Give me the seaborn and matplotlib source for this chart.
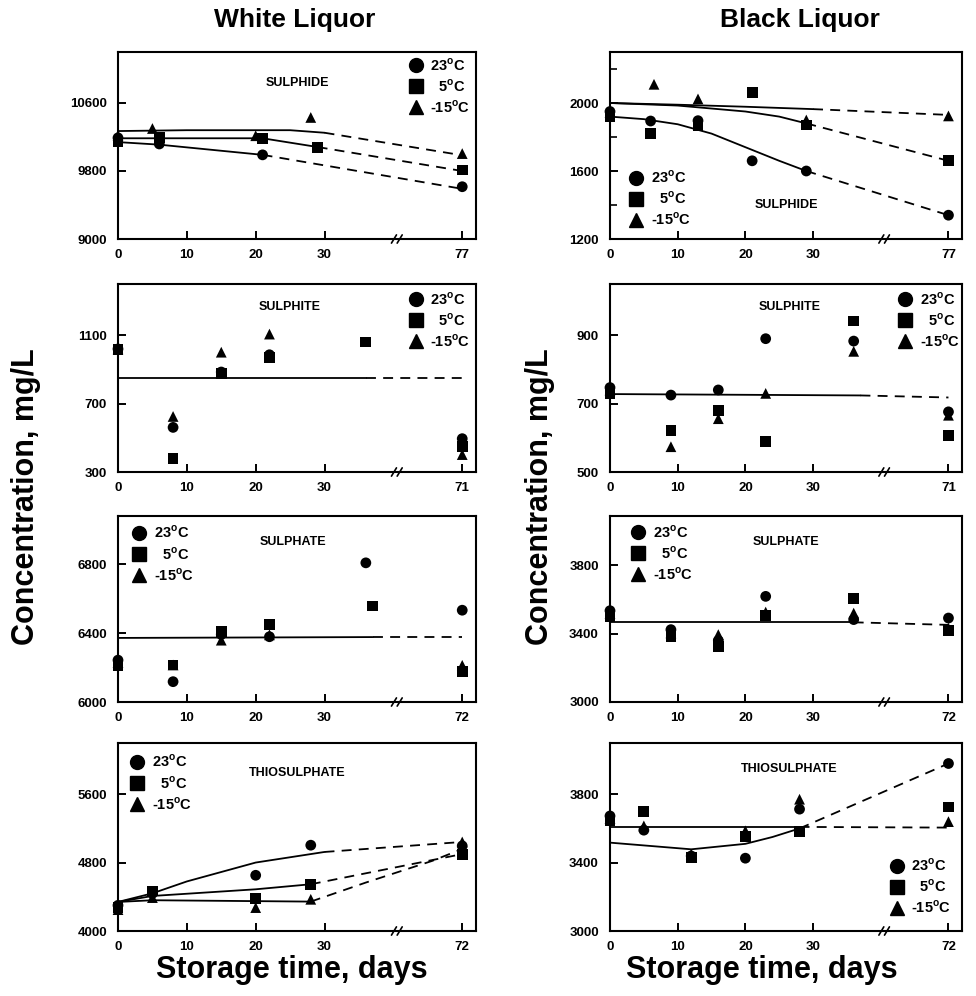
import numpy as np
import pandas as pd
import matplotlib
matplotlib.use("Agg")
import matplotlib.pyplot as plt
import seaborn as sns
from matplotlib.lines import Line2D

# ---------------------------------------------------------------- data
TEMPS = ["23°C", "5°C", "-15°C"]
LEG_LABELS = [r"23$^{\mathbf{o}}$C", r"  5$^{\mathbf{o}}$C", r"-15$^{\mathbf{o}}$C"]
MARKERS = {"23°C": "o", "5°C": "s", "-15°C": "^"}
XTICKS = [0, 10, 20, 30]

# White liquor - sulphide
ws_d23 = [0, 6, 21, 77];            ws_v23 = [10190, 10118, 9990, 9615]
ws_d5 = [0, 6, 21, 29, 77];         ws_v5 = [10150, 10195, 10185, 10080, 9812]
ws_dm15 = [0, 5, 20, 28, 77];       ws_vm15 = [10220, 10300, 10215, 10430, 10005]
ws_fit23_x = [0, 6, 21, 77];        ws_fit23_y = [10140, 10110, 9990, 9590]
ws_fit5_x = [0, 21, 29, 77];        ws_fit5_y = [10185, 10185, 10082, 9800]
ws_fitm15_x = [0, 10, 20, 25, 30, 77]; ws_fitm15_y = [10270, 10280, 10280, 10280, 10250, 9985]

# Black liquor - sulphide
bs_d23 = [0, 6, 13, 21, 29, 77];   bs_v23 = [1950, 1894, 1896, 1660, 1600, 1340]
bs_d5 = [0, 6, 13, 21, 29, 77];    bs_v5 = [1920, 1820, 1864, 2060, 1870, 1660]
bs_dm15 = [0, 6.5, 13, 29, 77];    bs_vm15 = [1945, 2110, 2024, 1900, 1924]
bs_fit23_x = [0, 5, 10, 15, 20, 25, 29, 77]; bs_fit23_y = [1920, 1905, 1875, 1820, 1740, 1660, 1600, 1340]
bs_fit5_x = [0, 10, 20, 25, 29, 77]; bs_fit5_y = [2000, 1985, 1950, 1920, 1880, 1660]
bs_fitm15_x = [0, 10, 20, 30, 77];  bs_fitm15_y = [2000, 1990, 1978, 1964, 1930]

# White liquor - sulphite
wsi_d23 = [0, 8, 15, 22, 71];       wsi_v23 = [1020, 561, 885, 986, 495]
wsi_d5 = [0, 8, 15, 22, 36, 71];    wsi_v5 = [1015, 377, 876, 972, 1060, 450]
wsi_dm15 = [0, 8, 15, 22, 71];      wsi_vm15 = [1020, 625, 1001, 1107, 402]
wsi_fit_x = [0, 36, 71];            wsi_fit_y = [851, 851, 851]

# Black liquor - sulphite
bsi_d23 = [0, 9, 16, 23, 36, 71];   bsi_v23 = [747, 725, 740, 890, 883, 676]
bsi_d5 = [0, 9, 16, 23, 36, 71];    bsi_v5 = [730, 621, 681, 589, 942, 607]
bsi_dm15 = [0, 9, 16, 23, 36, 71];  bsi_vm15 = [740, 574, 656, 730, 853, 666]
bsi_fit_x = [0, 37, 71];            bsi_fit_y = [728, 724, 718]

# White liquor - sulphate
wsa_d23 = [0, 8, 15, 22, 36, 72];   wsa_v23 = [6243, 6118, 6392, 6379, 6808, 6533]
wsa_d5 = [0, 8, 15, 22, 37, 72];    wsa_v5 = [6209, 6215, 6410, 6450, 6557, 6176]
wsa_dm15 = [0, 8, 15, 22, 72];      wsa_vm15 = [6230, 6215, 6359, 6390, 6213]
wsa_fit_x = [0, 37, 72];            wsa_fit_y = [6372, 6377, 6377]

# Black liquor - sulphate
bsa_d23 = [0, 9, 16, 23, 36, 72];   bsa_v23 = [3535, 3424, 3360, 3619, 3483, 3492]
bsa_d5 = [0, 9, 16, 23, 36, 72];    bsa_v5 = [3502, 3385, 3326, 3508, 3605, 3418]
bsa_dm15 = [0, 9, 16, 23, 36, 72];  bsa_vm15 = [3520, 3405, 3395, 3527, 3521, 3433]
bsa_fit_x = [0, 36, 72];            bsa_fit_y = [3467, 3467, 3452]

# White liquor - thiosulphate
wt_d23 = [0, 5, 20, 28, 72];        wt_v23 = [4300, 4440, 4652, 5004, 4996]
wt_d5 = [0, 5, 20, 28, 72];         wt_v5 = [4274, 4469, 4383, 4547, 4898]
wt_dm15 = [0, 5, 20, 28, 72];       wt_vm15 = [4250, 4391, 4274, 4371, 5042]
wt_fit23_x = [0, 5, 10, 20, 30, 72]; wt_fit23_y = [4340, 4441, 4580, 4801, 4925, 5042]
wt_fit5_x = [0, 5, 20, 28, 72];     wt_fit5_y = [4340, 4410, 4488, 4547, 4900]
wt_fitm15_x = [0, 5, 28, 36, 58, 72]; wt_fitm15_y = [4340, 4360, 4344, 4567, 4820, 4960]

# Black liquor - thiosulphate
bt_d23 = [0, 5, 12, 20, 28, 72];    bt_v23 = [3673, 3590, 3439, 3426, 3713, 3980]
bt_d5 = [0, 5, 12, 20, 28, 72];     bt_v5 = [3644, 3699, 3429, 3551, 3582, 3726]
bt_dm15 = [0, 5, 12, 20, 28, 72];   bt_vm15 = [3660, 3615, 3450, 3586, 3771, 3640]
bt_fita_x = [0, 28, 72];            bt_fita_y = [3609, 3609, 3605]
bt_fitb_x = [0, 12, 20, 24, 28, 72]; bt_fitb_y = [3517, 3478, 3510, 3550, 3600, 3980]

# ---------------------------------------------------------------- panels
panels = [
    dict(row=0, col=0, last=77, ylim=(9000, 11200), yt=[9000, 9800, 10600], minor=None,
         pts=[(ws_d23, ws_v23), (ws_d5, ws_v5), (ws_dm15, ws_vm15)],
         fits=[(ws_fit23_x, ws_fit23_y, 21), (ws_fit5_x, ws_fit5_y, 29), (ws_fitm15_x, ws_fitm15_y, 30)],
         name="SULPHIDE", name_xy=(0.50, 0.835),
         leg=dict(loc="upper right", bbox_to_anchor=(0.985, 0.975))),
    dict(row=0, col=1, last=77, ylim=(1200, 2300), yt=[1200, 1600, 2000], minor=[1400, 1800, 2200],
         pts=[(bs_d23, bs_v23), (bs_d5, bs_v5), (bs_dm15, bs_vm15)],
         fits=[(bs_fit23_x, bs_fit23_y, 29), (bs_fit5_x, bs_fit5_y, 29), (bs_fitm15_x, bs_fitm15_y, 30)],
         name="SULPHIDE", name_xy=(0.50, 0.18),
         leg=dict(loc="lower left", bbox_to_anchor=(0.05, 0.06))),
    dict(row=1, col=0, last=71, ylim=(300, 1400), yt=[300, 700, 1100], minor=None,
         pts=[(wsi_d23, wsi_v23), (wsi_d5, wsi_v5), (wsi_dm15, wsi_vm15)],
         fits=[(wsi_fit_x, wsi_fit_y, 36)],
         name="SULPHITE", name_xy=(0.48, 0.878),
         leg=dict(loc="upper right", bbox_to_anchor=(0.985, 0.965))),
    dict(row=1, col=1, last=71, ylim=(500, 1050), yt=[500, 700, 900], minor=None,
         pts=[(bsi_d23, bsi_v23), (bsi_d5, bsi_v5), (bsi_dm15, bsi_vm15)],
         fits=[(bsi_fit_x, bsi_fit_y, 37)],
         name="SULPHITE", name_xy=(0.51, 0.878),
         leg=dict(loc="upper right", bbox_to_anchor=(0.995, 0.965))),
    dict(row=2, col=0, last=72, ylim=(6000, 7080), yt=[6000, 6400, 6800], minor=None,
         pts=[(wsa_d23, wsa_v23), (wsa_d5, wsa_v5), (wsa_dm15, wsa_vm15)],
         fits=[(wsa_fit_x, wsa_fit_y, 37)],
         name="SULPHATE", name_xy=(0.49, 0.86),
         leg=dict(loc="upper left", bbox_to_anchor=(0.035, 0.955))),
    dict(row=2, col=1, last=72, ylim=(3000, 4090), yt=[3000, 3400, 3800], minor=None,
         pts=[(bsa_d23, bsa_v23), (bsa_d5, bsa_v5), (bsa_dm15, bsa_vm15)],
         fits=[(bsa_fit_x, bsa_fit_y, 36)],
         name="SULPHATE", name_xy=(0.50, 0.86),
         leg=dict(loc="upper left", bbox_to_anchor=(0.055, 0.96))),
    dict(row=3, col=0, last=72, ylim=(4000, 6200), yt=[4000, 4800, 5600], minor=None,
         pts=[(wt_d23, wt_v23), (wt_d5, wt_v5), (wt_dm15, wt_vm15)],
         fits=[(wt_fit23_x, wt_fit23_y, 30), (wt_fit5_x, wt_fit5_y, 28), (wt_fitm15_x, wt_fitm15_y, 28)],
         name="THIOSULPHATE", name_xy=(0.50, 0.84),
         leg=dict(loc="upper left", bbox_to_anchor=(0.03, 0.945))),
    dict(row=3, col=1, last=72, ylim=(3000, 4100), yt=[3000, 3400, 3800], minor=None,
         pts=[(bt_d23, bt_v23), (bt_d5, bt_v5), (bt_dm15, bt_vm15)],
         fits=[(bt_fita_x, bt_fita_y, 28), (bt_fitb_x, bt_fitb_y, 28)],
         name="THIOSULPHATE", name_xy=(0.51, 0.862),
         leg=dict(loc="lower right", bbox_to_anchor=(0.97, 0.08))),
]

# ---------------------------------------------------------------- style
sns.set_style("ticks")
plt.rcParams["font.family"] = ["Liberation Sans", "DejaVu Sans"]
plt.rcParams["font.weight"] = "bold"
plt.rcParams["text.color"] = "black"
plt.rcParams["axes.labelcolor"] = "black"
plt.rcParams["xtick.color"] = "black"
plt.rcParams["ytick.color"] = "black"
plt.rcParams["axes.edgecolor"] = "black"
plt.rcParams["mathtext.fontset"] = "custom"
plt.rcParams["mathtext.rm"] = "Liberation Sans:bold"
plt.rcParams["mathtext.bf"] = "Liberation Sans:bold"

W, H = 976, 996
fig = plt.figure(figsize=(W / 100, H / 100), dpi=100)

col_lr = [(118, 476), (610, 962)]
row_tb = [(52, 239), (284, 472), (516, 702), (743, 931)]


def make_scale(last):
    k = 10.0 / (last - 40.0)

    def fwd(x):
        x = np.asarray(x, float)
        return np.where(x <= 40, x, 40 + (x - 40) * k)

    def inv(t):
        t = np.asarray(t, float)
        return np.where(t <= 40, t, 40 + (t - 40) / k)

    return fwd, inv, k


for p in panels:
    l, r = col_lr[p["col"]]
    t, b = row_tb[p["row"]]
    ax = fig.add_axes([l / W, 1 - b / H, (r - l) / W, (b - t) / H])
    fwd, inv, k = make_scale(p["last"])
    ax.set_xscale("function", functions=(fwd, inv))

    # points
    frames = []
    for temp, (d, v) in zip(TEMPS, p["pts"]):
        frames.append(pd.DataFrame({"day": d, "conc": v, "temp": temp}))
    df = pd.concat(frames, ignore_index=True)
    sns.scatterplot(data=df, x="day", y="conc", style="temp", markers=MARKERS,
                    style_order=TEMPS, color="black", s=60, linewidth=0,
                    ax=ax, legend=False, clip_on=False, zorder=3)

    # fitted curves: solid over measured range, dashed beyond
    for fx, fy, split in p["fits"]:
        fx = np.asarray(fx, float)
        fy = np.asarray(fy, float)
        solid = fx <= split
        dashed = fx >= split
        sns.lineplot(x=fx[solid], y=fy[solid], color="black", lw=1.3,
                     estimator=None, sort=False, ax=ax, zorder=2)
        sns.lineplot(x=fx[dashed], y=fy[dashed], color="black", lw=1.3,
                     linestyle=(0, (5.5, 4)), estimator=None, sort=False, ax=ax, zorder=2)

    ax.set_xlim(0, 40 + 12 / k)
    ax.set_ylim(*p["ylim"])
    ax.set_xticks(XTICKS + [p["last"]])
    ax.set_xticklabels([str(v) for v in XTICKS + [p["last"]]])
    ax.set_yticks(p["yt"])
    ax.set_yticklabels([str(v) for v in p["yt"]])
    if p["minor"]:
        ax.set_yticks(p["minor"], minor=True)
    ax.set_xlabel("")
    ax.set_ylabel("")
    ax.tick_params(axis="both", which="major", direction="in", length=6, width=1.4,
                   labelsize=9.5, colors="black")
    ax.tick_params(axis="x", pad=7)
    ax.tick_params(axis="y", pad=8)
    ax.tick_params(axis="y", which="minor", direction="in", length=5, width=1.2)
    for lab in ax.get_xticklabels() + ax.get_yticklabels():
        lab.set_fontweight("bold")
        lab.set_color("black")
    for s in ax.spines.values():
        s.set_linewidth(1.5)
        s.set_color("black")

    # axis break marks on the bottom spine
    bx = 40.5 / (40 + 12)
    for dx in (-0.008, 0.008):
        ax.plot([bx + dx - 0.007, bx + dx + 0.007], [-0.022, 0.022],
                transform=ax.transAxes, color="black", lw=1.2, clip_on=False, zorder=5)

    ax.text(p["name_xy"][0], p["name_xy"][1], p["name"], transform=ax.transAxes,
            ha="center", va="center", fontsize=9, fontweight="bold", color="black")

    handles = [Line2D([], [], marker=MARKERS[tk], color="black", linestyle="none",
                      markersize=10) for tk in TEMPS]
    leg = ax.legend(handles, LEG_LABELS, frameon=False, handletextpad=0.4,
                    labelspacing=0.3, borderaxespad=0, borderpad=0, handlelength=1.2,
                    prop=dict(size=10.5, weight="bold"), labelcolor="black", **p["leg"])

# titles and axis labels
txt = dict(ha="center", va="center", fontweight="bold", color="black")
fig.text(295 / W, 1 - 20 / H, "White Liquor", fontsize=19, **txt)
fig.text(800 / W, 1 - 20 / H, "Black Liquor", fontsize=19, **txt)
fig.text(292 / W, 1 - 970 / H, "Storage time, days", fontsize=22, **txt)
fig.text(762 / W, 1 - 970 / H, "Storage time, days", fontsize=22, **txt)
fig.text(26 / W, 1 - 497 / H, "Concentration, mg/L", rotation=90, fontsize=22, **txt)
fig.text(540 / W, 1 - 497 / H, "Concentration, mg/L", rotation=90, fontsize=22, **txt)

fig.savefig("out.png", dpi=100, facecolor="white")
